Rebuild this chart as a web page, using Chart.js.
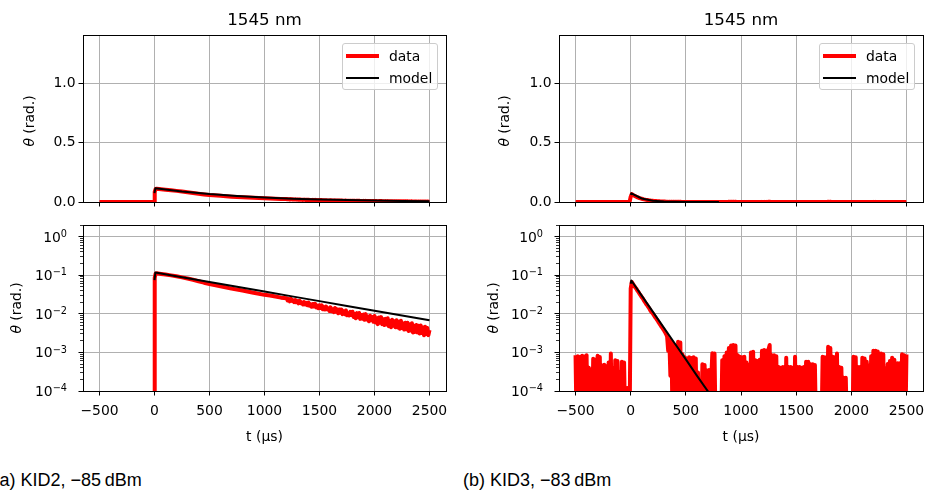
<!DOCTYPE html>
<html>
<head>
<meta charset="utf-8">
<script src="https://cdn.jsdelivr.net/npm/chart.js@4.4.1/dist/chart.umd.min.js"></script>
<style>
  html, body { margin: 0; padding: 0; background: #fff; }
  body { width: 927px; height: 496px; position: relative; overflow: hidden; font-family: 'DejaVu Sans', sans-serif; color: #000; }
  .panel { position: absolute; }
  .panel canvas { display: block; }
  .txt { position: absolute; white-space: nowrap; transform: translate(-50%, -50%); font-size: 13.9px; line-height: 1.2; }
  .title { font-size: 16.7px; }
  .ylab { transform: translate(-50%, -50%) rotate(-90deg); }
  .logtick { position: absolute; white-space: nowrap; font-size: 13.9px; line-height: 1.2; transform: translateY(-50%); }
  .logtick span { font-size: 0.7em; position: relative; top: -0.5em; }
  .caption { position: absolute; white-space: nowrap; font-family: 'Liberation Sans', Arial, sans-serif; font-size: 18px; line-height: 1; }
  .legend { position: absolute; box-sizing: border-box; border: 1px solid #cccccc; border-radius: 3px; background: rgba(255,255,255,0.8); font-size: 13.9px; }
  .legend .sample { position: absolute; left: 3px; width: 33px; }
  .legend .name { position: absolute; left: 46px; transform: translateY(-50%); line-height: 1.2; }
</style>
</head>
<body>
<script>
// axis ticks
const xTicks = [-500, 0, 500, 1000, 1500, 2000, 2500];
const linTicks = [0, 0.5, 1.0];
const logTicks = [1e-4, 1e-3, 1e-2, 1e-1, 1];
const logTickExp = ['\u22124', '\u22123', '\u22122', '\u22121', '0'];
const panelTitles = ['1545 nm', '1545 nm'];
const captions = ['(a) KID2, \u221285\u2009dBm', '(b) KID3, \u221283\u2009dBm'];

// KID2 measured pulse (t in us, theta in rad), sparse part
const kid2T = [-500, -4, 2, 10, 20, 60, 100, 150, 200, 250, 300, 350, 400, 450, 500,
  600, 700, 800, 900, 1000, 1050, 1100, 1150];
const kid2Data = [1e-5, 1e-5, 0.085, 0.110, 0.112, 0.108, 0.104, 0.099, 0.094, 0.088, 0.082, 0.076, 0.070, 0.064, 0.059,
  0.052, 0.045, 0.040, 0.035, 0.031, 0.0298, 0.0280, 0.0262];
// KID2 noisy tail, one sample every 10 us from 1200 us
const kid2TailStart = 1200;
const kid2TailStep = 10;
const kid2Tail = [
  0.0254, 0.0222, 0.0240, 0.0211, 0.0244, 0.0216, 0.0224, 0.0201, 0.0227, 0.0199,
  0.0214, 0.0187, 0.0218, 0.0189, 0.0196, 0.0174, 0.0201, 0.0174, 0.0191, 0.0167,
  0.0195, 0.0162, 0.0175, 0.0152, 0.0180, 0.0156, 0.0181, 0.0146, 0.0162, 0.0140,
  0.0166, 0.0141, 0.0166, 0.0131, 0.0149, 0.0130, 0.0153, 0.0132, 0.0136, 0.0118,
  0.0147, 0.0116, 0.0133, 0.0110, 0.0141, 0.0113, 0.0130, 0.0103, 0.0129, 0.0107,
  0.0128, 0.0098, 0.0116, 0.0098, 0.0122, 0.0092, 0.0105, 0.0091, 0.0112, 0.0093,
  0.0113, 0.0083, 0.0100, 0.0077, 0.0104, 0.0082, 0.0105, 0.0074, 0.0094, 0.0075,
  0.0096, 0.0070, 0.0098, 0.0071, 0.0084, 0.0064, 0.0089, 0.0069, 0.0082, 0.0062,
  0.0088, 0.0060, 0.0077, 0.0054, 0.0080, 0.0059, 0.0082, 0.0054, 0.0072, 0.0051,
  0.0074, 0.0053, 0.0077, 0.0048, 0.0065, 0.0045, 0.0070, 0.0049, 0.0064, 0.0045,
  0.0068, 0.0044, 0.0062, 0.0041, 0.0066, 0.0043, 0.0056, 0.0039, 0.0059, 0.0040,
  0.0059, 0.0036, 0.0053, 0.0037, 0.0057, 0.0033, 0.0049, 0.0034, 0.0051, 0.0033,
  0.0049, 0.0031, 0.0050, 0.0032, 0.0044, 0.0028, 0.0046, 0.0030, 0.0043, 0.0028,
  0.0038];
const kid2ModelT = [0, 8, 250, 500, 750, 1000, 1250, 1500, 1750, 2000, 2250, 2500];
const kid2Model = [0.075, 0.117, 0.0887, 0.0667, 0.0501, 0.0377, 0.0283, 0.0213, 0.0160, 0.0120, 0.0090, 0.0068];

// KID3 measured pulse, one sample every 10 us starting at -500 us
const kid3Start = -500;
const kid3Step = 10;
const kid3Data = [
  8.5e-4, 1e-5, 8.0e-4, 1e-5, 7.6e-4, 1e-5, 8.2e-4, 1e-5, 7.8e-4, 1e-5,
  8.5e-4, 1e-5, 4.0e-4, 1e-5, 3.6e-4, 1e-5, 6.8e-4, 1e-5, 6.5e-4, 1e-5,
  8.2e-4, 1e-5, 7.6e-4, 1e-5, 4.6e-4, 1e-5, 4.8e-4, 1e-5, 4.4e-4, 1e-5,
  5.5e-4, 1e-5, 9.4e-4, 1e-5, 3.8e-4, 1e-5, 6.3e-4, 1e-5, 6.0e-4, 1e-5,
  3.1e-4, 1e-5, 5.7e-4, 1e-5, 5.5e-4, 1e-5, 1e-5, 1.2e-4, 1e-5, 1e-5,
  0.045, 0.067, 0.060, 0.054, 0.049, 0.045, 0.040, 0.037, 0.033, 0.030,
  0.027, 0.025, 0.022, 0.020, 0.018, 0.0165, 0.015, 0.0135, 0.012, 0.011,
  0.0102, 0.0092, 0.0083, 0.0076, 0.0069, 0.0062, 0.0056, 0.0051, 0.0046, 0.0042,
  0.0038, 0.0034, 0.0030, 0.0026, 1.1e-3, 2.2e-3, 2.5e-4, 1.9e-3, 1e-5, 1.6e-3,
  1e-5, 1.4e-3, 1e-5, 1.9e-3, 1e-5, 1.8e-3, 1e-5, 9.0e-4, 1e-5, 7.5e-4,
  1e-5, 7.0e-4, 1e-5, 7.5e-4, 1e-5, 7.2e-4, 1e-5, 7.5e-4, 1e-5, 7.0e-4,
  1e-5, 3.0e-4, 1e-5, 1.5e-4, 1e-5, 4.9e-4, 1e-5, 4.7e-4, 1e-5, 3.4e-4,
  1e-5, 3.5e-4, 1e-5, 2.0e-4, 9.5e-4, 1e-5, 9.3e-4, 1e-5, 1e-5, 1e-5,
  1e-5, 1e-5, 1e-5, 6.3e-4, 1e-5, 8.0e-4, 1e-5, 1.0e-3, 1e-5, 1.3e-3,
  1e-5, 1.5e-3, 1e-5, 1.55e-3, 1e-5, 1.5e-3, 1e-5, 8.5e-4, 1e-5, 7.7e-4,
  1e-5, 7.5e-4, 1e-5, 7.7e-4, 1e-5, 5.5e-4, 1e-5, 4.7e-4, 1e-5, 1.0e-3,
  1e-5, 1.04e-3, 1e-5, 6.3e-4, 1e-5, 6.0e-4, 1e-5, 6.5e-4, 1e-5, 1.1e-3,
  1e-5, 1.15e-3, 1e-5, 1.1e-3, 1e-5, 1.2e-3, 1.55e-3, 1e-5, 8.5e-4, 1e-5,
  8.5e-4, 1e-5, 8.0e-4, 1e-5, 4.2e-4, 1e-5, 4.0e-4, 1e-5, 4.2e-4, 1e-5,
  1e-5, 7.3e-4, 1e-5, 4.2e-4, 1e-5, 4.2e-4, 1e-5, 4.0e-4, 1e-5, 7.7e-4,
  1e-5, 4.2e-4, 1e-5, 4.2e-4, 1e-5, 4.0e-4, 1e-5, 4.2e-4, 1e-5, 5.7e-4,
  1e-5, 5.7e-4, 1e-5, 4.9e-4, 1e-5, 4.9e-4, 1e-5, 4.7e-4, 1e-5, 1e-5,
  1e-5, 1e-5, 1e-5, 1e-5, 7.7e-4, 1e-5, 7.5e-4, 1e-5, 1e-5, 1.4e-3,
  1e-5, 1.3e-3, 1e-5, 7.7e-4, 1e-5, 7.5e-4, 1e-5, 9.4e-4, 1e-5, 4.2e-4,
  1e-5, 4.0e-4, 1e-5, 2.2e-4, 1e-5, 2.2e-4, 1e-5, 1e-5, 1e-5, 1e-5,
  1e-5, 1e-5, 7.7e-4, 1e-5, 7.5e-4, 1e-5, 4.2e-4, 1e-5, 4.2e-4, 1e-5,
  7.3e-4, 1e-5, 7.0e-4, 1e-5, 5.7e-4, 1e-5, 4.5e-4, 1e-5, 8.0e-4, 1e-5,
  1.1e-3, 1e-5, 1.1e-3, 1e-5, 1.05e-3, 4.2e-4, 1e-5, 9.4e-4, 1e-5, 9.0e-4,
  1e-5, 3.8e-4, 1e-5, 5.0e-4, 1e-5, 6.0e-4, 1e-5, 7.3e-4, 1e-5, 6.5e-4,
  1.4e-4, 1e-5, 5.2e-4, 1e-5, 5.2e-4, 1e-5, 8.9e-4, 1e-5, 8.5e-4, 1e-5,
  8.9e-4];
const kid3ModelT = [0, 6, 100, 200, 300, 400, 500, 600, 700, 800];
const kid3Model = [0.06, 0.073, 0.0295, 0.0114, 0.0044, 0.0017, 0.00066, 0.00025, 0.000098, 0.000037];

// full sample times
const kid2AllT = kid2T.concat(kid2Tail.map((_, i) => kid2TailStart + i * kid2TailStep));
const kid2AllData = kid2Data.concat(kid2Tail);
const kid3T = kid3Data.map((_, i) => kid3Start + i * kid3Step);

// layout: margins of each canvas around its plot box
const PAD_L = 80, PAD_T = 15, PAD_R = 20, PAD_B = 45;
const GRID = '#b0b0b0';
const PAGE_W = 927;

Chart.defaults.font.family = "'DejaVu Sans', sans-serif";
Chart.defaults.font.size = 13.9;
Chart.defaults.color = '#000';

const fmtX = v => (v < 0 ? '\u2212' + Math.abs(v) : String(v));

// spines on top of the lines, plus minor ticks for log axes
const framePlugin = {
    id: 'frame',
    afterDatasetsDraw(chart, args, opts) {
        const { ctx, chartArea: a } = chart;
        const al = p => Math.round(p - 0.5) + 0.5;
        ctx.save();
        ctx.strokeStyle = '#000';
        if (opts.minor) {
            const ys = chart.scales.y;
            ctx.lineWidth = 0.8;
            ctx.beginPath();
            for (let k = -4; k <= 0; k++) {
                for (let m = 2; m <= 9; m++) {
                    const v = m * Math.pow(10, k);
                    if (v > ys.max) continue;
                    const py = al(ys.getPixelForValue(v));
                    ctx.moveTo(a.left - 3, py);
                    ctx.lineTo(a.left, py);
                }
            }
            ctx.stroke();
        }
        ctx.lineWidth = 1;
        const l = al(a.left), r = al(a.right), t = al(a.top), b = al(a.bottom);
        ctx.strokeRect(l, t, r - l, b - t);
        ctx.restore();
    }
};

function toPoints(ts, vs) {
    return ts.map((t, i) => ({ x: t, y: vs[i] }));
}

function addText(cls, text, x, y, html) {
    const d = document.createElement('div');
    d.className = 'txt ' + cls;
    if (html) d.innerHTML = text; else d.textContent = text;
    d.style.left = x + 'px';
    d.style.top = y + 'px';
    document.body.appendChild(d);
    return d;
}

function makePanel(p) {
    const [L, T, R, B] = p.box;
    const w = R - L + PAD_L + PAD_R;
    const h = B - T + PAD_T + PAD_B;
    const wrap = document.createElement('div');
    wrap.className = 'panel';
    wrap.style.cssText = `left:${L - PAD_L}px;top:${T - PAD_T}px;width:${w}px;height:${h}px`;
    const canvas = document.createElement('canvas');
    canvas.width = w;
    canvas.height = h;
    wrap.appendChild(canvas);
    document.body.appendChild(wrap);

    const isLog = p.yType === 'logarithmic';
    const yScale = {
        type: p.yType,
        min: isLog ? 1e-4 : 0,
        max: isLog ? 2 : 1.41,
        afterBuildTicks: s => { s.ticks = (isLog ? logTicks : linTicks).map(v => ({ value: v })); },
        afterFit: s => { s.width = PAD_L; s.paddingTop = 0; s.paddingBottom = 0; },
        grid: { color: GRID, lineWidth: 1, tickColor: '#000', tickLength: 4.5, drawTicks: true },
        border: { display: false },
        ticks: {
            padding: 3,
            autoSkip: false,
            callback: v => isLog ? '' : v.toFixed(1)
        }
    };
    const xScale = {
        type: 'linear',
        min: -650,
        max: 2650,
        afterBuildTicks: s => { s.ticks = xTicks.map(v => ({ value: v })); },
        afterFit: s => { s.height = PAD_B; s.paddingLeft = 0; s.paddingRight = 0; },
        grid: { color: GRID, lineWidth: 1, tickColor: '#000', tickLength: 4.5, drawTicks: true },
        border: { display: false },
        ticks: {
            padding: 8,
            maxRotation: 0,
            autoSkip: false,
            callback: v => p.xLabels ? fmtX(v) : ''
        }
    };

    const chart = new Chart(canvas.getContext('2d'), {
        type: 'line',
        data: {
            datasets: [
                {
                    label: 'data',
                    data: toPoints(p.dataT, p.dataV),
                    borderColor: '#ff0000',
                    borderWidth: 4,
                    order: 2,
                    clip: 0
                },
                {
                    label: 'model',
                    data: toPoints(p.modelT, p.modelV),
                    borderColor: '#000000',
                    borderWidth: 2,
                    order: 1,
                    clip: 0
                }
            ]
        },
        options: {
            responsive: false,
            animation: false,
            devicePixelRatio: 1,
            events: [],
            layout: { padding: { left: 0, top: PAD_T, right: PAD_R, bottom: 0 } },
            elements: {
                point: { radius: 0 },
                line: { tension: 0, borderJoinStyle: 'round', borderCapStyle: 'butt', fill: false }
            },
            plugins: {
                legend: { display: false },
                tooltip: { enabled: false },
                frame: { minor: isLog }
            },
            scales: { x: xScale, y: yScale }
        },
        plugins: [framePlugin]
    });

    // power-of-ten labels placed with the chart's own log scale
    if (isLog) {
        const ys = chart.scales.y;
        logTicks.forEach((v, i) => {
            const d = document.createElement('div');
            d.className = 'logtick';
            d.innerHTML = '10<span>' + logTickExp[i] + '</span>';
            d.style.right = (PAGE_W - (L - 16)) + 'px';
            d.style.top = (T - PAD_T + ys.getPixelForValue(v)) + 'px';
            document.body.appendChild(d);
        });
    }

    // html legend built from the chart's own datasets
    if (p.legend) {
        const lg = document.createElement('div');
        lg.className = 'legend';
        const lw = 96, lh = 47;
        lg.style.cssText = `left:${R - 8 - lw}px;top:${T + 8}px;width:${lw}px;height:${lh}px`;
        chart.data.datasets.forEach((ds, i) => {
            const cy = 12 + i * 22;
            const s = document.createElement('div');
            s.className = 'sample';
            s.style.top = (cy - ds.borderWidth / 2) + 'px';
            s.style.height = ds.borderWidth + 'px';
            s.style.background = ds.borderColor;
            const n = document.createElement('div');
            n.className = 'name';
            n.style.top = cy + 'px';
            n.textContent = ds.label;
            lg.appendChild(s);
            lg.appendChild(n);
        });
        document.body.appendChild(lg);
    }
    return chart;
}

const panels = [
    { box: [83, 35, 446, 202], yType: 'linear', xLabels: false, legend: true,
      dataT: kid2AllT, dataV: kid2AllData, modelT: kid2ModelT, modelV: kid2Model },
    { box: [83, 225, 446, 391], yType: 'logarithmic', xLabels: true, legend: false,
      dataT: kid2AllT, dataV: kid2AllData, modelT: kid2ModelT, modelV: kid2Model },
    { box: [559, 35, 923, 202], yType: 'linear', xLabels: false, legend: true,
      dataT: kid3T, dataV: kid3Data, modelT: kid3ModelT, modelV: kid3Model },
    { box: [559, 225, 923, 391], yType: 'logarithmic', xLabels: true, legend: false,
      dataT: kid3T, dataV: kid3Data, modelT: kid3ModelT, modelV: kid3Model }
];

panels.forEach(makePanel);

// titles, axis labels, captions
addText('title', panelTitles[0], 264.5, 18.5);
addText('title', panelTitles[1], 741, 18.5);
const yLab = '<i>\u03B8</i> (rad.)';
addText('ylab', yLab, 29, 121, true);
addText('ylab', yLab, 15.5, 308, true);
addText('ylab', yLab, 504, 121, true);
addText('ylab', yLab, 492.5, 308, true);
addText('xlab', 't (\u00B5s)', 264.5, 435.5);
addText('xlab', 't (\u00B5s)', 741, 435.5);

[[-6.5, captions[0]], [463, captions[1]]].forEach(([x, text]) => {
    const c = document.createElement('div');
    c.className = 'caption';
    c.textContent = text;
    c.style.left = x + 'px';
    c.style.top = '471px';
    document.body.appendChild(c);
});
</script>
</body>
</html>
